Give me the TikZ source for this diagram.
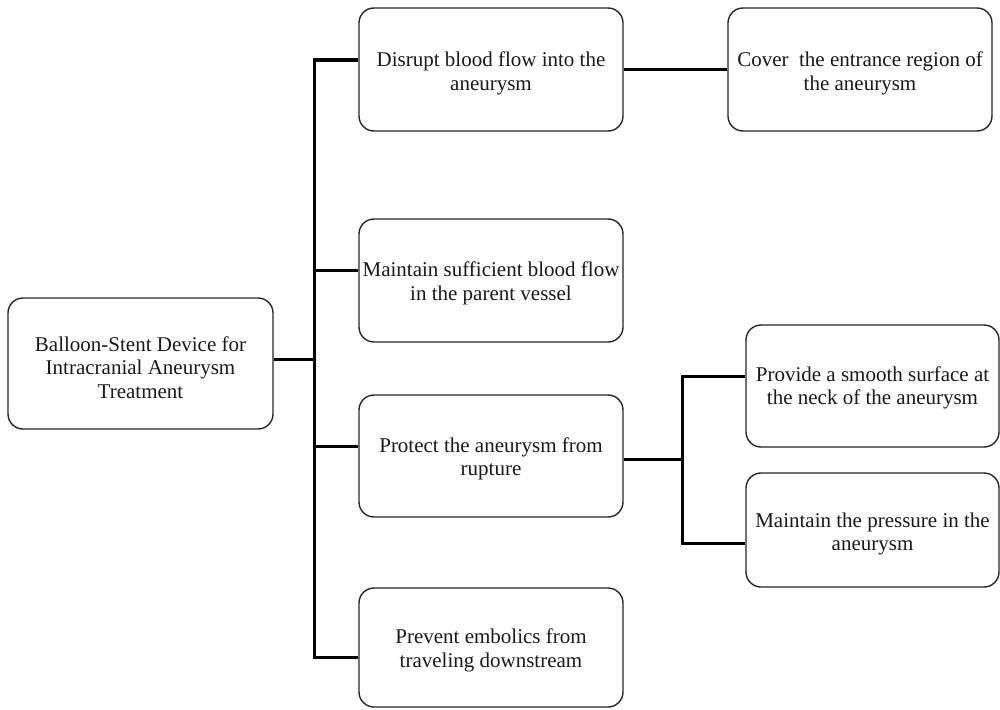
\documentclass[tikz,border=0pt]{standalone}
\usepackage{fontspec}
\setmainfont{Liberation Serif}
\begin{document}
\begin{tikzpicture}[x=1pt,y=-1pt,
  box/.style={draw=black!85, line width=1.4pt, rounded corners=15pt, fill=white,
    inner sep=0pt},
  label text/.style={align=center, inner sep=0pt, text=black!90,
    font=\fontsize{21}{23.5}\selectfont},
  link/.style={draw=black, line width=3pt, line join=miter}]
\useasboundingbox (0,0) rectangle (1000,709);

% boxes
\node[box, minimum width=265pt, minimum height=131pt] (root) at (140.5,363.5) {};
\node[box, minimum width=264pt, minimum height=123pt] (b1) at (491,69.5) {};
\node[box, minimum width=264pt, minimum height=123pt] (b2) at (860,69.5) {};
\node[box, minimum width=264pt, minimum height=123pt] (b3) at (491,280.5) {};
\node[box, minimum width=264pt, minimum height=122pt] (b4) at (491,456) {};
\node[box, minimum width=264pt, minimum height=119pt] (b5) at (491,647.5) {};
\node[box, minimum width=253pt, minimum height=122pt] (b6) at (872.5,386) {};
\node[box, minimum width=253pt, minimum height=114pt] (b7) at (872.5,530) {};

% box texts, set slightly below the box centres
\node[label text] (t0) at ([yshift=-4pt]root.center)
  {Balloon-Stent Device for\\Intracranial Aneurysm\\Treatment};
\node[label text] (t1) at ([yshift=-4pt]b1.center)
  {Disrupt blood flow into the\\aneurysm};
\node[label text] (t2) at ([yshift=-4pt]b2.center)
  {Cover~ the entrance region of\\the aneurysm};
\node[label text] (t3) at ([yshift=-3pt]b3.center)
  {Maintain sufficient blood flow\\in the parent vessel};
\node[label text] (t4) at ([yshift=-3pt]b4.center)
  {Protect the aneurysm from\\rupture};
\node[label text] (t5) at ([yshift=-3pt]b5.center)
  {Prevent embolics from\\traveling downstream};
\node[label text] (t6) at ([yshift=-2pt]b6.center)
  {Provide a smooth surface at\\the neck of the aneurysm};
\node[label text] (t7) at ([yshift=-4pt]b7.center)
  {Maintain the pressure in the\\aneurysm};

% junction points of the connector tree
\coordinate (j0) at (314,359);
\coordinate (jt) at (314,60);
\coordinate (j2) at (314,270);
\coordinate (j3) at (314,446);
\coordinate (jb) at (314,657);
\coordinate (k0) at (682,459);
\coordinate (k1) at (682,376);
\coordinate (k2) at (682,543);

% connectors
\draw[link] (root.east |- j0) -- (j0);
\draw[link] (b1.west |- jt) -- (jt) -- (jb) -- (b5.west |- jb);
\draw[link] (j2) -- (b3.west |- j2);
\draw[link] (j3) -- (b4.west |- j3);
\draw[link] (b1.east) -- (b2.west);
\draw[link] (b4.east |- k0) -- (k0);
\draw[link] (b6.west |- k1) -- (k1) -- (k2) -- (b7.west |- k2);
\end{tikzpicture}
\end{document}
